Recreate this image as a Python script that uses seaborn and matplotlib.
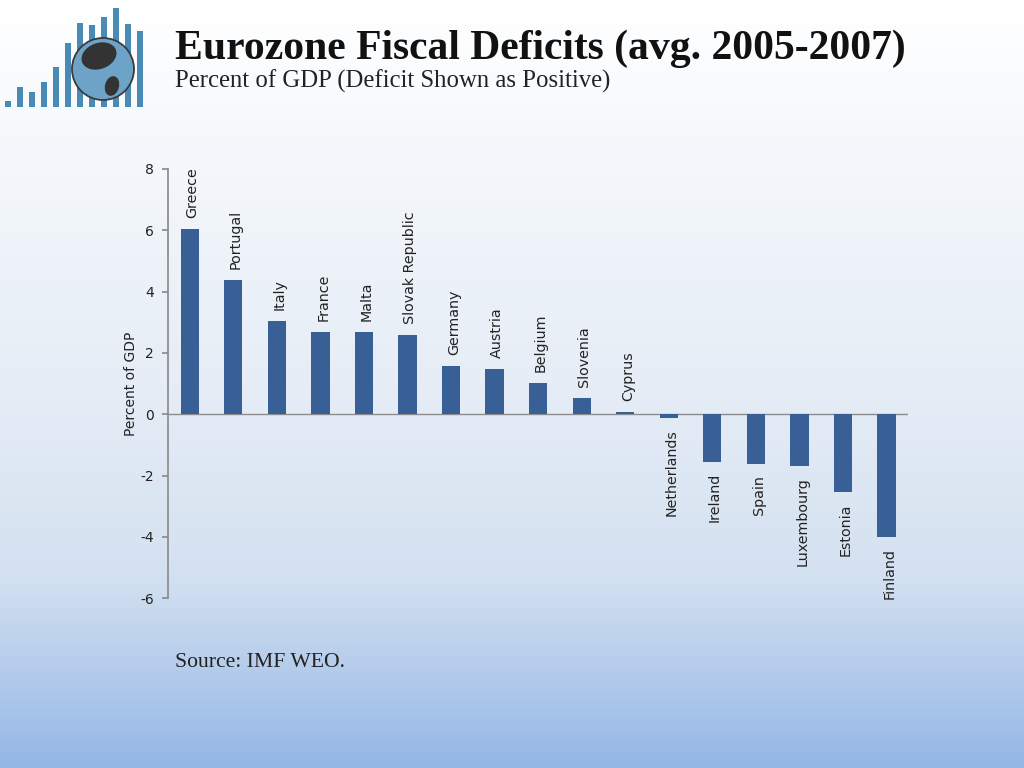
import numpy as np
import pandas as pd
import matplotlib
matplotlib.use("Agg")
import matplotlib.pyplot as plt
from matplotlib.colors import LinearSegmentedColormap
from matplotlib.patches import Circle, Ellipse
import seaborn as sns

# chart data
countries = ["Greece", "Portugal", "Italy", "France", "Malta", "Slovak Republic",
             "Germany", "Austria", "Belgium", "Slovenia", "Cyprus", "Netherlands",
             "Ireland", "Spain", "Luxembourg", "Estonia", "Finland"]
deficits = [6.05, 4.38, 3.04, 2.68, 2.68, 2.58, 1.57, 1.47, 1.01, 0.52, 0.07,
            -0.13, -1.54, -1.63, -1.70, -2.55, -3.99]
y_ticks = [8, 6, 4, 2, 0, -2, -4, -6]

# little logo bars in the corner (heights in logo pixels)
logo_heights = [6, 20, 15, 25, 40, 64, 84, 82, 90, 99, 83, 76]

title = "Eurozone Fiscal Deficits (avg. 2005-2007)"
subtitle = "Percent of GDP (Deficit Shown as Positive)"
source = "Source: IMF WEO."

bar_color = "#386096"

sns.set_theme(style="white")
plt.rcParams["font.family"] = ["DejaVu Sans"]

fig = plt.figure(figsize=(10.24, 7.68), dpi=100)

# background gradient
bg = fig.add_axes([0, 0, 1, 1], zorder=-10)
grad_cmap = LinearSegmentedColormap.from_list(
    "bg", [(0.0, "#ffffff"), (0.17, "#f6f9fc"), (0.5, "#e6edf6"),
           (0.75, "#d4e1f1"), (1.0, "#94b7e5")])
grad = np.linspace(0, 1, 256).reshape(-1, 1)
bg.imshow(grad, aspect="auto", cmap=grad_cmap, extent=[0, 1, 0, 1], origin="upper")
bg.set_axis_off()

# logo, drawn in a pixel-sized box so the globe stays round
logo = fig.add_axes([0.0, 1 - 120 / 768, 180 / 1024, 120 / 768], zorder=2)
logo.bar(8 + 12 * np.arange(len(logo_heights)), logo_heights, bottom=107 - np.array(logo_heights),
         width=6, color="#4a8bb5", linewidth=0)
logo.set_xlim(0, 180)
logo.set_ylim(120, 0)
logo.add_patch(Circle((103, 69), radius=31, facecolor="#6ea3c8",
                      edgecolor="#3b3b3b", linewidth=1.3, zorder=3))
logo.add_patch(Ellipse((99, 56), 36, 26, angle=-20, facecolor="#333333",
                       edgecolor="none", zorder=4))
logo.add_patch(Ellipse((112, 86), 14, 20, angle=15, facecolor="#333333",
                       edgecolor="none", zorder=4))
logo.set_axis_off()

# main chart
ax = fig.add_axes([0.164, 0.221, 0.723, 0.559])
ax.patch.set_alpha(0)
df = pd.DataFrame({"country": countries, "deficit": deficits})
sns.barplot(data=df, x="country", y="deficit", color=bar_color, width=0.42,
            saturation=1, linewidth=0, ax=ax)
ax.set_xlim(-0.5, len(countries) - 0.5)
ax.set_ylim(-6, 8)
ax.set_yticks(y_ticks)
ax.set_yticklabels([str(t) for t in y_ticks], fontsize=10, color="#222222")
ax.set_xticks([])
ax.set_xlabel("")
ax.set_ylabel("Percent of GDP", fontsize=10, color="#222222", labelpad=2)
ax.axhline(0, color="#8c8c8c", linewidth=1.0, zorder=0)
for side in ["top", "right", "bottom"]:
    ax.spines[side].set_visible(False)
ax.spines["left"].set_color("#8c8c8c")
ax.tick_params(axis="y", direction="out", length=4, color="#8c8c8c", left=True, pad=6)

for i, (name, val) in enumerate(zip(countries, deficits)):
    if val >= 0:
        ax.annotate(name, (i, val), xytext=(2, 8), textcoords="offset points",
                    rotation=90, ha="center", va="bottom", fontsize=10.3, color="#222222")
    else:
        ax.annotate(name, (i, val), xytext=(2, -8), textcoords="offset points",
                    rotation=90, ha="center", va="top", fontsize=10.3, color="#222222")

# titles and source
fig.text(0.171, 1 - 59 / 768, title, fontsize=30, fontweight="bold",
         family=["Liberation Serif"], va="baseline", color="#111111")
fig.text(0.171, 1 - 88 / 768, subtitle, fontsize=17.8,
         family=["Liberation Serif"], va="baseline", color="#222222")
fig.text(0.171, 1 - 667 / 768, source, fontsize=15.6,
         family=["Liberation Serif"], va="baseline", color="#222222")

fig.savefig("out.png", dpi=100)
